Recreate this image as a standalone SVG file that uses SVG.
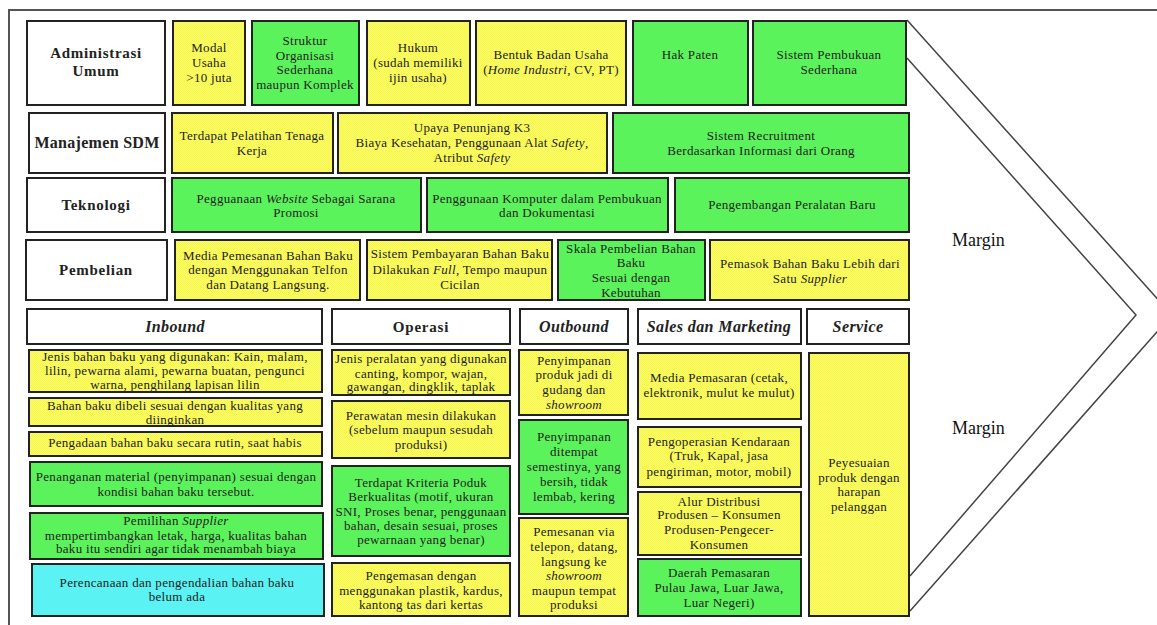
<svg xmlns="http://www.w3.org/2000/svg" width="1157" height="625" viewBox="0 0 1157 625">
<defs>
<pattern id="pY" width="2" height="2" patternUnits="userSpaceOnUse"><rect width="2" height="2" fill="#ffff44"/><rect width="1" height="1" fill="#f2f272"/><rect x="1" y="1" width="1" height="1" fill="#f2f272"/></pattern>
<pattern id="pG" width="2" height="2" patternUnits="userSpaceOnUse"><rect width="2" height="2" fill="#44ff44"/><rect width="1" height="1" fill="#72e672"/><rect x="1" y="1" width="1" height="1" fill="#72e672"/></pattern>
<pattern id="pC" width="2" height="2" patternUnits="userSpaceOnUse"><rect width="2" height="2" fill="#44ffff"/><rect width="1" height="1" fill="#72e6e6"/><rect x="1" y="1" width="1" height="1" fill="#72e6e6"/></pattern>
</defs>
<style>
g rect{stroke:#222;stroke-width:2}
.w{fill:#fff}
.y{fill:url(#pY)}
.g{fill:url(#pG)}
.c{fill:url(#pC)}
text{font-family:"Liberation Serif","Times New Roman",serif;fill:#222;text-anchor:middle}
.t{font-size:13px;letter-spacing:0.3px}
.lb{font-size:15px;font-weight:bold;letter-spacing:0.7px}
.hd{font-size:16px;font-weight:bold;font-style:italic;letter-spacing:0.4px}
.i{font-style:italic}
.mg{font-size:18px;text-anchor:start;fill:#111}
.ln{fill:none;stroke:#444;stroke-width:1.5}
</style>
<rect x="0" y="0" width="1157" height="625" fill="#fff"/>
<path class="ln" d="M9,625 V10 H1157" style="stroke:#555;stroke-width:2"/>

<g id="margin-chevron">
<polyline class="ln" points="907,20 1172,315 910,611"/>
<polyline class="ln" points="907,58 1136,315 910,576"/>
<text class="mg" x="952" y="246">Margin</text>
<text class="mg" x="952" y="434">Margin</text>
</g>

<g id="administrasi-umum"><rect class="w" x="27" y="21" width="138" height="84"/><text class="lb" x="96"><tspan x="96" y="58">Administrasi</tspan><tspan x="96" y="76">Umum</tspan></text></g>
<g id="modal-usaha"><rect class="y" x="173" y="21" width="72" height="84"/><text class="t"><tspan x="209" y="52">Modal</tspan><tspan x="209" y="67">Usaha</tspan><tspan x="209" y="82">&gt;10 juta</tspan></text></g>
<g id="struktur-organisasi"><rect class="g" x="252" y="21" width="107" height="84"/><text class="t"><tspan x="305" y="45">Struktur</tspan><tspan x="305" y="60">Organisasi</tspan><tspan x="305" y="74">Sederhana</tspan><tspan x="305" y="89">maupun Komplek</tspan></text></g>
<g id="hukum"><rect class="y" x="367" y="21" width="103" height="84"/><text class="t"><tspan x="418" y="52">Hukum</tspan><tspan x="418" y="67">(sudah memiliki</tspan><tspan x="418" y="82">ijin usaha)</tspan></text></g>
<g id="bentuk-badan-usaha"><rect class="y" x="476" y="21" width="150" height="84"/><text class="t"><tspan x="551" y="59">Bentuk Badan Usaha</tspan><tspan x="551" y="74">(<tspan class="i">Home Industri</tspan>, CV, PT)</tspan></text></g>
<g id="hak-paten"><rect class="g" x="633" y="21" width="115" height="84"/><text class="t" x="690" y="59">Hak Paten</text></g>
<g id="sistem-pembukuan"><rect class="g" x="753" y="21" width="153" height="84"/><text class="t"><tspan x="829" y="59">Sistem Pembukuan</tspan><tspan x="829" y="74">Sederhana</tspan></text></g>

<g id="manajemen-sdm"><rect class="w" x="29" y="113" width="136" height="60"/><text class="lb" x="97" y="148" style="font-size:16px;letter-spacing:0.3px">Manajemen SDM</text></g>
<g id="pelatihan"><rect class="y" x="172" y="113" width="161" height="60"/><text class="t"><tspan x="252" y="140">Terdapat Pelatihan Tenaga</tspan><tspan x="252" y="155">Kerja</tspan></text></g>
<g id="k3"><rect class="y" x="338" y="113" width="269" height="60"/><text class="t"><tspan x="472" y="132">Upaya Penunjang K3</tspan><tspan x="472" y="147">Biaya Kesehatan, Penggunaan Alat <tspan class="i">Safety</tspan>,</tspan><tspan x="472" y="162">Atribut <tspan class="i">Safety</tspan></tspan></text></g>
<g id="recruitment"><rect class="g" x="613" y="113" width="296" height="60"/><text class="t"><tspan x="761" y="140">Sistem Recruitment</tspan><tspan x="761" y="155">Berdasarkan Informasi dari Orang</tspan></text></g>

<g id="teknologi"><rect class="w" x="27" y="178" width="138" height="54"/><text class="lb" x="96" y="210">Teknologi</text></g>
<g id="website"><rect class="g" x="172" y="178" width="249" height="54"/><text class="t"><tspan x="296" y="203">Pegguanaan <tspan class="i">Website</tspan> Sebagai Sarana</tspan><tspan x="296" y="217">Promosi</tspan></text></g>
<g id="komputer"><rect class="g" x="427" y="178" width="241" height="54"/><text class="t"><tspan x="547" y="203">Penggunaan Komputer dalam Pembukuan</tspan><tspan x="547" y="217">dan Dokumentasi</tspan></text></g>
<g id="peralatan-baru"><rect class="g" x="675" y="178" width="234" height="54"/><text class="t" x="792" y="209">Pengembangan Peralatan Baru</text></g>

<g id="pembelian"><rect class="w" x="26" y="240" width="141" height="60"/><text class="lb" x="96" y="275">Pembelian</text></g>
<g id="media-pemesanan"><rect class="y" x="175" y="240" width="185" height="60"/><text class="t"><tspan x="268" y="260">Media Pemesanan Bahan Baku</tspan><tspan x="268" y="274">dengan Menggunakan Telfon</tspan><tspan x="268" y="289">dan Datang Langsung.</tspan></text></g>
<g id="sistem-pembayaran"><rect class="y" x="367" y="240" width="185" height="60"/><text class="t"><tspan x="460" y="258">Sistem Pembayaran Bahan Baku</tspan><tspan x="460" y="274">Dilakukan <tspan class="i">Full</tspan>, Tempo maupun</tspan><tspan x="460" y="289">Cicilan</tspan></text></g>
<g id="skala-pembelian"><rect class="g" x="558" y="240" width="147" height="60"/><text class="t"><tspan x="631" y="253">Skala Pembelian Bahan</tspan><tspan x="631" y="267">Baku</tspan><tspan x="631" y="282">Sesuai dengan</tspan><tspan x="631" y="297">Kebutuhan</tspan></text></g>
<g id="pemasok"><rect class="y" x="710" y="240" width="199" height="60"/><text class="t"><tspan x="810" y="268">Pemasok Bahan Baku Lebih dari</tspan><tspan x="810" y="283">Satu <tspan class="i">Supplier</tspan></tspan></text></g>

<g id="inbound"><rect class="w" x="27" y="309" width="295" height="35"/><text class="hd" x="175" y="332">Inbound</text></g>
<g id="operasi"><rect class="w" x="332" y="309" width="178" height="35"/><text class="hd" x="421" y="332" style="font-style:normal;font-size:15px;letter-spacing:0.8px">Operasi</text></g>
<g id="outbound"><rect class="w" x="520" y="309" width="108" height="35"/><text class="hd" x="574" y="332">Outbound</text></g>
<g id="sales-marketing"><rect class="w" x="638" y="309" width="163" height="35"/><text class="hd" x="719" y="332">Sales dan Marketing</text></g>
<g id="service"><rect class="w" x="807" y="309" width="102" height="35"/><text class="hd" x="858" y="332">Service</text></g>

<g id="in-jenis-bahan"><rect class="y" x="29" y="350" width="293" height="42"/><text class="t"><tspan x="175" y="361">Jenis bahan baku yang digunakan: Kain, malam,</tspan><tspan x="175" y="375">lilin, pewarna alami, pewarna buatan, pengunci</tspan><tspan x="175" y="389">warna, penghilang lapisan lilin</tspan></text></g>
<g id="in-dibeli"><rect class="y" x="29" y="398" width="293" height="28"/><text class="t"><tspan x="175" y="410">Bahan baku dibeli sesuai dengan kualitas yang</tspan><tspan x="175" y="424">diinginkan</tspan></text></g>
<g id="in-pengadaan"><rect class="y" x="29" y="432" width="293" height="24"/><text class="t" x="175" y="447">Pengadaan bahan baku secara rutin, saat habis</text></g>
<g id="in-penanganan"><rect class="g" x="30" y="462" width="292" height="44"/><text class="t"><tspan x="176" y="481">Penanganan material (penyimpanan) sesuai dengan</tspan><tspan x="176" y="496">kondisi bahan baku tersebut.</tspan></text></g>
<g id="in-pemilihan"><rect class="g" x="30" y="513" width="293" height="46"/><text class="t"><tspan x="176" y="525">Pemilihan <tspan class="i">Supplier</tspan></tspan><tspan x="176" y="540">mempertimbangkan letak, harga, kualitas bahan</tspan><tspan x="176" y="553">baku itu sendiri agar tidak menambah biaya</tspan></text></g>
<g id="in-perencanaan"><rect class="c" x="32" y="564" width="292" height="52"/><text class="t"><tspan x="177" y="587">Perencanaan dan pengendalian bahan baku</tspan><tspan x="177" y="601">belum ada</tspan></text></g>

<g id="op-peralatan"><rect class="y" x="332" y="350" width="178" height="45"/><text class="t"><tspan x="421" y="363">Jenis peralatan yang digunakan</tspan><tspan x="421" y="378">canting, kompor, wajan,</tspan><tspan x="421" y="391">gawangan, dingklik, taplak</tspan></text></g>
<g id="op-perawatan"><rect class="y" x="332" y="401" width="178" height="57"/><text class="t"><tspan x="421" y="420">Perawatan mesin dilakukan</tspan><tspan x="421" y="434">(sebelum maupun sesudah</tspan><tspan x="421" y="449">produksi)</tspan></text></g>
<g id="op-kriteria"><rect class="g" x="332" y="466" width="178" height="90"/><text class="t"><tspan x="421" y="487">Terdapat Kriteria Poduk</tspan><tspan x="421" y="501">Berkualitas (motif, ukuran</tspan><tspan x="421" y="516">SNI, Proses benar, penggunaan</tspan><tspan x="421" y="530">bahan, desain sesuai, proses</tspan><tspan x="421" y="544">pewarnaan yang benar)</tspan></text></g>
<g id="op-pengemasan"><rect class="y" x="332" y="563" width="178" height="53"/><text class="t"><tspan x="421" y="580">Pengemasan dengan</tspan><tspan x="421" y="595">menggunakan plastik, kardus,</tspan><tspan x="421" y="609">kantong tas dari kertas</tspan></text></g>

<g id="out-produk-jadi"><rect class="y" x="519" y="350" width="109" height="65"/><text class="t"><tspan x="574" y="365">Penyimpanan</tspan><tspan x="574" y="379">produk jadi di</tspan><tspan x="574" y="394">gudang dan</tspan><tspan x="574" y="409" class="i">showroom</tspan></text></g>
<g id="out-ditempat"><rect class="g" x="519" y="420" width="109" height="94"/><text class="t"><tspan x="574" y="441">Penyimpanan</tspan><tspan x="574" y="456">ditempat</tspan><tspan x="574" y="471">semestinya, yang</tspan><tspan x="574" y="486">bersih, tidak</tspan><tspan x="574" y="501">lembab, kering</tspan></text></g>
<g id="out-pemesanan"><rect class="y" x="519" y="518" width="109" height="98"/><text class="t"><tspan x="574" y="536">Pemesanan via</tspan><tspan x="574" y="551">telepon, datang,</tspan><tspan x="574" y="566">langsung ke</tspan><tspan x="574" y="580" class="i">showroom</tspan><tspan x="574" y="595">maupun tempat</tspan><tspan x="574" y="609">produksi</tspan></text></g>

<g id="sm-media"><rect class="y" x="638" y="353" width="163" height="66"/><text class="t"><tspan x="719" y="382">Media Pemasaran (cetak,</tspan><tspan x="719" y="397">elektronik, mulut ke mulut)</tspan></text></g>
<g id="sm-kendaraan"><rect class="y" x="638" y="427" width="163" height="60"/><text class="t"><tspan x="719" y="446">Pengoperasian Kendaraan</tspan><tspan x="719" y="460">(Truk, Kapal, jasa</tspan><tspan x="719" y="476">pengiriman, motor, mobil)</tspan></text></g>
<g id="sm-distribusi"><rect class="y" x="638" y="492" width="163" height="63"/><text class="t"><tspan x="719" y="506">Alur Distribusi</tspan><tspan x="719" y="519">Produsen – Konsumen</tspan><tspan x="719" y="534">Produsen-Pengecer-</tspan><tspan x="719" y="549">Konsumen</tspan></text></g>
<g id="sm-daerah"><rect class="g" x="638" y="559" width="163" height="57"/><text class="t"><tspan x="719" y="577">Daerah Pemasaran</tspan><tspan x="719" y="592">Pulau Jawa, Luar Jawa,</tspan><tspan x="719" y="607">Luar Negeri)</tspan></text></g>

<g id="sv-penyesuaian"><rect class="y" x="809" y="353" width="100" height="263"/><text class="t"><tspan x="859" y="467">Peyesuaian</tspan><tspan x="859" y="482">produk dengan</tspan><tspan x="859" y="496">harapan</tspan><tspan x="859" y="511">pelanggan</tspan></text></g>
</svg>
